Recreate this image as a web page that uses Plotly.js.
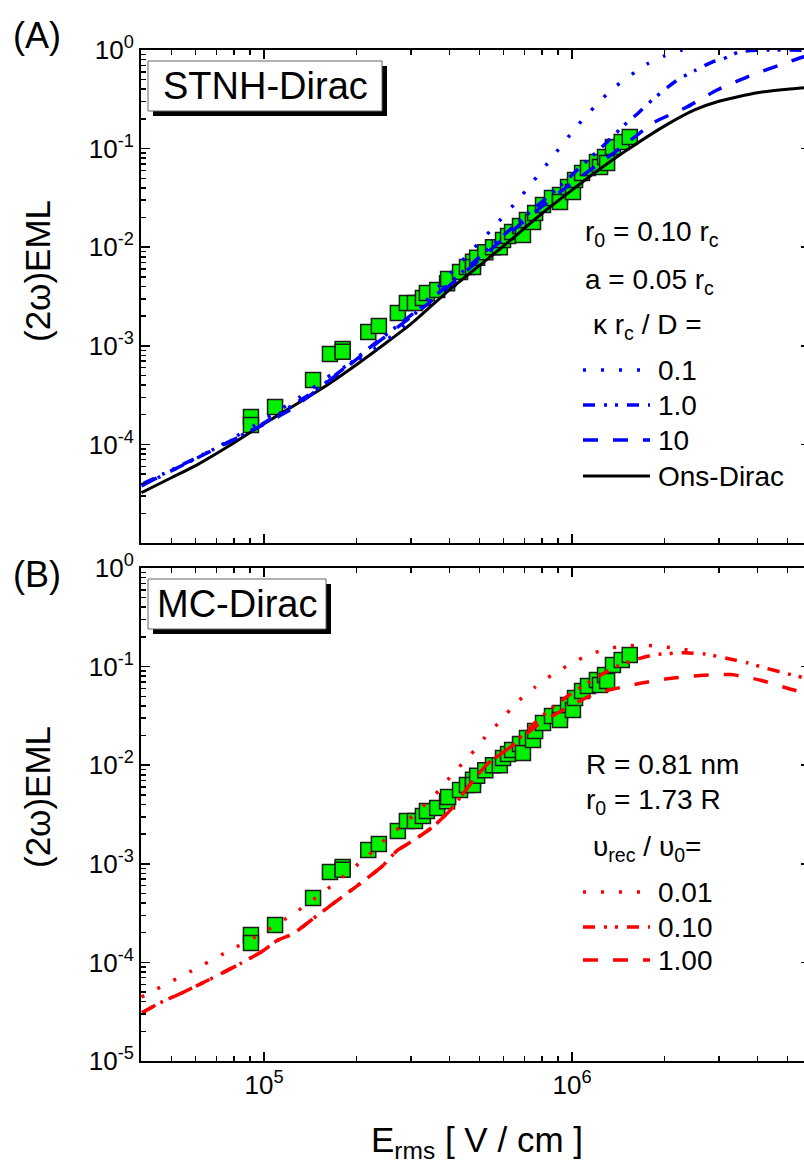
<!DOCTYPE html>
<html><head><meta charset="utf-8">
<script src="https://cdn.plot.ly/plotly-3.0.1.min.js"></script>
<style>html,body{margin:0;padding:0;overflow:hidden;background:#fff}#chart{width:810px;height:1170px}</style>
</head><body><div id="chart"></div>
<script>
// ---------- measured data (green squares, same in both panels) ----------
const expE = [9.07e4, 9.07e4, 1.086e5, 1.443e5, 1.637e5, 1.80e5, 1.80e5, 2.18e5, 2.36e5, 2.72e5,
  2.91e5, 3.09e5, 3.28e5, 3.38e5, 3.65e5, 3.93e5, 3.96e5, 4.33e5, 4.56e5, 4.77e5, 4.77e5, 4.92e5,
  5.23e5, 5.54e5, 5.83e5, 5.97e5, 6.2e5, 6.39e5, 6.78e5, 6.93e5, 7.14e5, 7.47e5, 7.59e5, 8.05e5,
  8.61e5, 9.14e5, 9.14e5, 9.71e5, 1.007e6, 1.023e6, 1.078e6, 1.127e6, 1.205e6, 1.233e6, 1.28e6,
  1.30e6, 1.358e6, 1.45e6, 1.54e6];
const expY = [1.90e-4, 1.57e-4, 2.39e-4, 4.5e-4, 8.25e-4, 9.3e-4, 8.7e-4, 1.38e-3, 1.59e-3, 2.15e-3,
  2.72e-3, 2.72e-3, 3.05e-3, 3.43e-3, 3.68e-3, 4.3e-3, 4.75e-3, 5.6e-3, 6.3e-3, 7.1e-3, 6.3e-3, 7.8e-3,
  8.9e-3, 1.0e-2, 1.0e-2, 1.18e-2, 1.3e-2, 1.43e-2, 1.64e-2, 1.33e-2, 1.89e-2, 1.80e-2, 2.22e-2, 2.68e-2,
  3.15e-2, 3.38e-2, 2.87e-2, 4.08e-2, 3.63e-2, 4.8e-2, 5.66e-2, 6.36e-2, 7.3e-2, 6.5e-2, 8.2e-2,
  7.14e-2, 0.104, 0.117, 0.131];

// ---------- panel A : STNH-Dirac ----------
const onsE = [4e4, 5e4, 6e4, 8e4, 1e5, 1.3e5, 1.6e5, 2e5, 2.5e5, 3e5, 4e5, 5e5, 6e5, 8e5, 1e6,
  1.2e6, 1.5e6, 2e6, 2.5e6, 3e6, 4e6, 5e6, 6e6];
const onsY = [3.24e-5, 4.59e-5, 6.1e-5, 1.04e-4, 1.62e-4, 2.66e-4, 3.98e-4, 6.46e-4, 1.08e-3, 1.67e-3,
  3.70e-3, 6.5e-3, 1.03e-2, 2.21e-2, 3.80e-2, 5.86e-2, 9.55e-2, 0.170, 0.247, 0.302, 0.369, 0.40, 0.42];

const k01E = [4.0e4, 5.97e4, 7.76e4, 9.93e4, 1.309e5, 1.702e5, 2.094e5, 2.825e5, 3.381e5, 4.266e5,
  5.458e5, 6.887e5, 8.492e5, 1.045e6, 1.34e6, 1.754e6, 1.991e6, 2.275e6, 2.8e6];
const k01Y = [3.80e-5, 7.11e-5, 1.109e-4, 1.766e-4, 3.03e-4, 5.42e-4, 7.69e-4, 1.552e-3, 2.92e-3, 6.59e-3,
  1.49e-2, 3.38e-2, 7.66e-2, 0.173, 0.393, 0.721, 0.869, 1.0, 1.25];

const k1E = [4.05e4, 9.2e4, 1.442e5, 1.74e5, 2.328e5, 3.459e5, 4.775e5, 6.622e5, 9.141e5, 1.096e6,
  1.309e6, 1.476e6, 1.614e6, 1.82e6, 2.051e6, 2.223e6, 2.529e6, 2.851e6, 3.09e6, 3.483e6, 3.98e6, 5.7e6];
const k1Y = [4.0e-5, 1.42e-4, 3.4e-4, 5.3e-4, 1.10e-3, 2.9e-3, 7.0e-3, 1.74e-2, 4.17e-2, 7.08e-2,
  0.119, 0.173, 0.219, 0.311, 0.422, 0.508, 0.627, 0.755, 0.811, 0.955, 0.995, 0.995];

const k10E = [4.05e4, 9.2e4, 1.213e5, 1.442e5, 1.858e5, 2.328e5, 3.459e5, 4.775e5, 6.622e5, 9.141e5,
  1.233e6, 1.51e6, 1.832e6, 2.36e6, 2.958e6, 3.698e6, 4.732e6, 5.623e6, 6.0e6];
const k10Y = [3.89e-5, 1.40e-4, 2.23e-4, 3.32e-4, 6.10e-4, 1.07e-3, 2.78e-3, 6.59e-3, 1.60e-2, 3.63e-2,
  7.14e-2, 0.114, 0.182, 0.264, 0.393, 0.532, 0.705, 0.849, 0.89];

// ---------- panel B : MC-Dirac ----------
const v001E = [4.0e4, 4.5e4, 5.83e4, 7.59e4, 9.93e4, 1.288e5, 1.675e5, 2.178e5, 2.472e5, 2.851e5,
  3.258e5, 3.698e5, 4.14e5, 4.667e5, 5.224e5, 5.875e5, 6.622e5, 7.586e5, 8.67e5, 9.863e5,
  1.127e6, 1.288e6, 1.466e6, 1.675e6, 1.901e6, 2.158e6, 2.472e6];
const v001Y = [4.45e-5, 5.40e-5, 8.22e-5, 1.28e-4, 2.0e-4, 3.34e-4, 6.15e-4, 1.21e-3, 1.76e-3, 2.56e-3,
  3.72e-3, 5.55e-3, 8.45e-3, 1.26e-2, 1.92e-2, 2.85e-2, 4.35e-2, 6.18e-2, 8.38e-2, 0.106,
  0.131, 0.150, 0.161, 0.165, 0.161, 0.154, 0.144];

const v010E = [4.02e4, 4.59e4, 5.42e4, 6.82e4, 8.36e4, 9.93e4, 1.10e5, 1.242e5, 1.442e5, 1.675e5,
  2.051e5, 2.432e5, 2.704e5, 3.048e5, 3.508e5, 4.018e5, 4.775e5, 5.333e5, 6.295e5, 7.87e5,
  1.007e6, 1.409e6, 1.837e6, 2.291e6, 2.71e6, 3.228e6, 3.724e6, 4.227e6, 4.977e6, 5.93e6];
const v010Y = [3.09e-5, 3.89e-5, 4.91e-5, 6.98e-5, 9.68e-5, 1.31e-4, 1.66e-4, 1.95e-4, 2.77e-4, 3.94e-4,
  6.30e-4, 9.59e-4, 1.36e-3, 1.72e-3, 2.33e-3, 3.48e-3, 7.02e-3, 1.04e-2, 1.52e-2, 3.02e-2,
  5.5e-2, 0.102, 0.131, 0.138, 0.134, 0.120, 0.109, 0.097, 0.0851, 0.0741];

const v100E = [4.02e4, 4.59e4, 5.42e4, 6.82e4, 8.36e4, 9.93e4, 1.10e5, 1.242e5, 1.442e5, 1.675e5,
  2.051e5, 2.432e5, 2.704e5, 3.048e5, 3.508e5, 4.018e5, 4.775e5, 5.333e5, 6.295e5, 7.87e5,
  1.0e6, 1.191e6, 1.652e6, 2.075e6, 2.606e6, 3.281e6, 4.093e6, 5.176e6, 5.93e6];
const v100Y = [3.09e-5, 3.89e-5, 4.91e-5, 6.98e-5, 9.68e-5, 1.31e-4, 1.66e-4, 1.95e-4, 2.77e-4, 3.94e-4,
  6.30e-4, 9.59e-4, 1.36e-3, 1.72e-3, 2.33e-3, 3.48e-3, 7.02e-3, 1.04e-2, 1.52e-2, 2.66e-2,
  4.07e-2, 5.32e-2, 6.73e-2, 7.57e-2, 8.11e-2, 8.30e-2, 7.28e-2, 5.85e-2, 5.25e-2];

// ---------- tick labels ----------
const xTickVals = [1e5, 1e6];
const xTickText = ['10<sup>5</sup>', '10<sup>6</sup>'];
const yTickValsA = [1, 0.1, 0.01, 1e-3, 1e-4];
const yTickTextA = ['10<sup>0</sup>', '10<sup>-1</sup>', '10<sup>-2</sup>', '10<sup>-3</sup>', '10<sup>-4</sup>'];
const yTickValsB = [1, 0.1, 0.01, 1e-3, 1e-4, 1e-5];
const yTickTextB = ['10<sup>0</sup>', '10<sup>-1</sup>', '10<sup>-2</sup>', '10<sup>-3</sup>', '10<sup>-4</sup>', '10<sup>-5</sup>'];

// legend labels
const legA = ['0.1', '1.0', '10', 'Ons-Dirac'];
const legB = ['0.01', '0.10', '1.00'];

// ---------- layout helpers ----------
const W = 810, H = 1170;
const FONT = 'Liberation Sans, Arial, Helvetica, sans-serif';
const px = x => x / W;
const py = y => 1 - y / H;
function minorVals(lo, hi) {
  const v = [];
  for (let d = lo; d <= hi; d++) for (let k = 2; k <= 9; k++) v.push(k * Math.pow(10, d));
  return v;
}
const DOT = '3px,15px', DDOT = '12px,9px,3px,8px,3px,9px', DASH = '15px,15px';
const BLUE = '#0000ff', RED = '#ff0000';

function sq(xa, ya) {
  return {x: expE, y: expY, xaxis: xa, yaxis: ya, type: 'scatter', mode: 'markers', showlegend: false,
    marker: {symbol: 'square', size: 15, color: '#00f000', line: {color: '#1a1a1a', width: 1.5}}};
}
function ln(x, y, xa, ya, color, dash, w, name) {
  return {x: x, y: y, xaxis: xa, yaxis: ya, type: 'scatter', mode: 'lines', name: name, showlegend: false,
    line: {color: color, dash: dash, width: w, shape: 'spline', smoothing: 0.6}};
}

const traces = [
  sq('x', 'y'),
  ln(onsE, onsY, 'x', 'y', '#000', 'solid', 3, legA[3]),
  ln(k01E, k01Y, 'x', 'y', BLUE, DOT, 3.5, legA[0]),
  ln(k1E, k1Y, 'x', 'y', BLUE, DDOT, 3.5, legA[1]),
  ln(k10E, k10Y, 'x', 'y', BLUE, DASH, 3.5, legA[2]),
  sq('x2', 'y2'),
  ln(v001E, v001Y, 'x2', 'y2', RED, DOT, 3.5, legB[0]),
  ln(v010E, v010Y, 'x2', 'y2', RED, DDOT, 3.5, legB[1]),
  ln(v100E, v100Y, 'x2', 'y2', RED, DASH, 3.5, legB[2])
];

const xRange = [4.6006, 6.7727];
function xax(anchor, showLabels) {
  return {type: 'log', range: xRange, domain: [px(141), 1], anchor: anchor,
    showline: true, linewidth: 2, linecolor: '#000', mirror: 'ticks',
    ticks: 'inside', ticklen: 9, tickwidth: 1.5, tickcolor: '#000',
    tickmode: 'array', tickvals: xTickVals, ticktext: xTickText, showticklabels: showLabels,
    tickfont: {family: FONT, size: 26, color: '#000'},
    minor: {ticks: 'inside', ticklen: 5, tickwidth: 1.5, tickcolor: '#000', tickmode: 'array',
      tickvals: minorVals(4, 6), showgrid: false},
    showgrid: false, zeroline: false};
}
function yax(anchor, dom, vals, text) {
  return {type: 'log', range: [-5, 0], domain: dom, anchor: anchor,
    showline: true, linewidth: 2, linecolor: '#000', mirror: 'ticks',
    ticks: 'inside', ticklen: 9, tickwidth: 1.5, tickcolor: '#000',
    tickmode: 'array', tickvals: vals, ticktext: text,
    tickfont: {family: FONT, size: 26, color: '#000'},
    minor: {ticks: 'inside', ticklen: 5, tickwidth: 1.5, tickcolor: '#000', tickmode: 'array',
      tickvals: minorVals(-5, -1), showgrid: false},
    showgrid: false, zeroline: false};
}

const ann = [];
function txt(text, x, y, size, opts) {
  ann.push(Object.assign({text: text, x: px(x), y: py(y), xref: 'paper', yref: 'paper', showarrow: false,
    xanchor: 'left', yanchor: 'middle', font: {family: FONT, size: size, color: '#000'}}, opts || {}));
}
txt('(A)', 37, 35, 36, {xanchor: 'center'});
txt('(B)', 37, 574, 36, {xanchor: 'center'});
txt('(2ω)EML', 37, 271, 35, {xanchor: 'center', textangle: -90});
txt('(2ω)EML', 37, 797, 35, {xanchor: 'center', textangle: -90});
txt('E<sub>rms</sub> [ V / cm ]', 477, 1142, 35, {xanchor: 'center'});
txt('STNH-Dirac', 265, 86, 38, {xanchor: 'center'});
txt('MC-Dirac', 237, 604, 38, {xanchor: 'center'});
// legend A
txt('r<sub>0</sub> = 0.10 r<sub>c</sub>', 583, 234, 28);
txt('a = 0.05 r<sub>c</sub>', 583, 281, 28);
txt('κ r<sub>c</sub> / D =', 591, 326, 28);
const yLegA = [370, 405, 440, 476];
legA.forEach((t, i) => txt(t, 656, yLegA[i], 28));
// legend B
txt('R = 0.81 nm', 584, 764, 28);
txt('r<sub>0</sub> = 1.73 R', 584, 801, 28);
txt('υ<sub>rec</sub> / υ<sub>0</sub>=', 591, 848, 28);
const yLegB = [892, 927, 960];
legB.forEach((t, i) => txt(t, 656, yLegB[i], 28));

const shapes = [];
function rect(x0, y0, x1, y1, fill, lc, lw) {
  shapes.push({type: 'rect', xref: 'paper', yref: 'paper', x0: px(x0), x1: px(x1), y0: py(y1), y1: py(y0),
    fillcolor: fill, line: {color: lc, width: lw}, layer: 'above'});
}
function seg(y, color, dash, w) {
  shapes.push({type: 'line', xref: 'paper', yref: 'paper', x0: px(583), x1: px(650), y0: py(y), y1: py(y),
    line: {color: color, dash: dash, width: w}, layer: 'above'});
}
rect(153, 66, 387, 116, '#000', '#000', 0);
rect(148, 61, 382, 111, '#fff', '#666', 1);
rect(153, 584, 331, 634, '#000', '#000', 0);
rect(148, 579, 326, 629, '#fff', '#666', 1);
seg(yLegA[0], BLUE, DOT, 3.5);
seg(yLegA[1], BLUE, DDOT, 3.5);
seg(yLegA[2], BLUE, DASH, 3.5);
seg(yLegA[3], '#000', 'solid', 3);
seg(yLegB[0], RED, DOT, 3.5);
seg(yLegB[1], RED, DDOT, 3.5);
seg(yLegB[2], RED, DASH, 3.5);

const layout = {
  width: W, height: H, margin: {l: 0, r: 0, t: 0, b: 0},
  paper_bgcolor: '#fff', plot_bgcolor: '#fff', showlegend: false,
  font: {family: FONT, color: '#000'},
  xaxis: xax('y', false),
  yaxis: yax('x', [py(543), py(50)], yTickValsA, yTickTextA),
  xaxis2: xax('y2', true),
  yaxis2: yax('x2', [py(1061), py(568)], yTickValsB, yTickTextB),
  annotations: ann, shapes: shapes
};
Plotly.newPlot('chart', traces, layout, {staticPlot: true, displayModeBar: false});
</script></body></html>
